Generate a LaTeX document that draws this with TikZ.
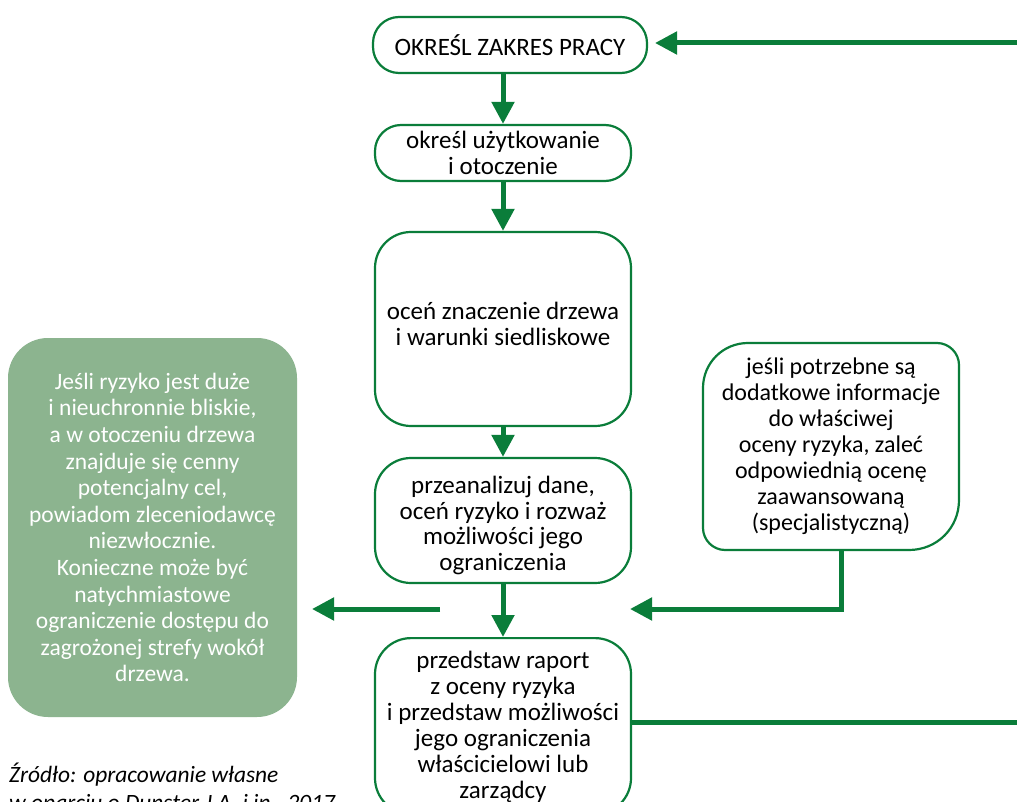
\documentclass[tikz,border=0pt]{standalone}
\usepackage{fontspec}
\setmainfont{Carlito}
\usetikzlibrary{arrows.meta}
\definecolor{dgreen}{RGB}{10,125,58}
\definecolor{lgreen}{RGB}{140,180,143}
\tikzset{
  flowbox/.style={draw=dgreen, line width=2.2pt, fill=white, align=center,
    font=\fontsize{25}{25.5}\selectfont, inner sep=0pt},
  flowtext/.style={align=center, font=\fontsize{25}{25.5}\selectfont, inner sep=0pt},
  flowarrow/.style={draw=dgreen, line width=5pt, -{Triangle[width=22pt,length=22pt]}},
  flowline/.style={draw=dgreen, line width=5pt},
}
\begin{document}
\begin{tikzpicture}[x=1pt,y=-1pt]
\clip (0,0) rectangle (1017,802);
\fill[white] (0,0) rectangle (1017,802);

% main column
\node[flowbox, rounded corners=26pt, minimum width=274pt, minimum height=56pt] (b1) at (510,45) {OKREŚL ZAKRES PRACY};
\node[flowbox, rounded corners=26pt, minimum width=256pt, minimum height=56pt] (b2) at (503,153) {określ użytkowanie\\i otoczenie};
\node[flowbox, rounded corners=36pt, minimum width=256pt, minimum height=194pt] (b3) at (503,329) {};
\node[flowtext] (b3t) at (503,324) {oceń znaczenie drzewa\\i warunki siedliskowe};
\node[flowbox, rounded corners=36pt, minimum width=256pt, minimum height=125pt] (b4) at (503,520.5) {};
\node[flowtext] (b4t) at (503,525.5) {przeanalizuj dane,\\oceń ryzyko i rozważ\\możliwości jego\\ograniczenia};
\node[flowbox, rounded corners=36pt, minimum width=256pt, minimum height=176pt, anchor=north] (b5) at (503,637) {};
\node[align=center, font=\fontsize{25}{26}\selectfont, inner sep=0pt] (b5t) at (503,727) {przedstaw raport\\z oceny ryzyka\\i przedstaw możliwości\\jego ograniczenia\\właścicielowi lub\\zarządcy};

% callout box
\draw[draw=dgreen, line width=2.2pt, fill=white]
  (703,388) .. controls (703,363) and (723,343) .. (748,343)
  -- (937,343) .. controls (949,343) and (959,353) .. (959,365)
  -- (959,500) .. controls (959,528) and (937,550) .. (909,550)
  -- (725,550) .. controls (713,550) and (703,540) .. (703,528) -- cycle;
\node[align=center, font=\fontsize{24}{26}\selectfont, minimum width=256pt, minimum height=207pt, inner sep=0pt] (call) at (831,446.5)
  {jeśli potrzebne są\\dodatkowe informacje\\do właściwej\\oceny ryzyka, zaleć\\odpowiednią ocenę\\zaawansowaną\\(specjalistyczną)};

% left box
\node[fill=lgreen, rounded corners=40pt, minimum width=289pt, minimum height=379pt, inner sep=0pt,
  align=center, text=white, font=\fontsize{23.5}{26.6}\selectfont] (warn) at (152.5,527.5)
  {Jeśli ryzyko jest duże\\i nieuchronnie bliskie,\\a w otoczeniu drzewa\\znajduje się cenny\\potencjalny cel,\\powiadom zleceniodawcę\\niezwłocznie.\\Konieczne może być\\natychmiastowe\\ograniczenie dostępu do\\zagrożonej strefy wokół\\drzewa.};

% source
\node[anchor=north west, align=left, font=\fontsize{23.4}{28}\itshape, inner sep=0pt] (src) at (9,763)
  {Źródło: opracowanie własne\\w oparciu o Dunster J.A. i in., 2017};

% connectors
\draw[flowarrow] (b1.south -| b2.north) -- (b2.north);
\draw[flowarrow] (b2) -- (b3);
\draw[flowarrow] (b3) -- (b4);
\draw[flowarrow] (b4) -- (b5);

\coordinate (topR) at (1017,43);
\coordinate (topT) at (655,43);
\draw[flowarrow] (topR) -- (topT);

\coordinate (laS) at (440,609);
\coordinate (laT) at (312,609);
\draw[flowarrow] (laS) -- (laT);

\coordinate (raT) at (630,609);
\draw[flowarrow] ([xshift=10pt]call.south) |- (raT);

\coordinate (botR) at (1017,722);
\draw[flowline] (b5.east |- botR) -- (botR);
\end{tikzpicture}
\end{document}
